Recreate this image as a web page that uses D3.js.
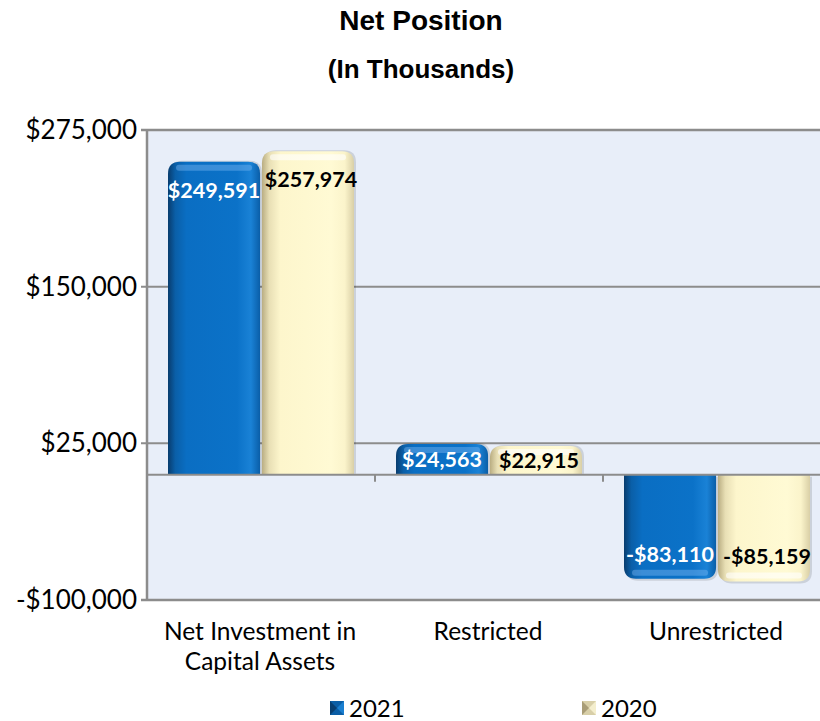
<!DOCTYPE html>
<html>
<head>
<meta charset="utf-8">
<script src="https://cdn.jsdelivr.net/npm/d3@7"></script>
<style>
  body { margin: 0; background: #fff; }
  svg text { font-family: Lato, "Open Sans", sans-serif; }
</style>
</head>
<body>
<script>
// chart data
const categories = ["Net Investment in|Capital Assets", "Restricted", "Unrestricted"];
const seriesNames = ["2021", "2020"];
const values2021 = [249591, 24563, -83110];
const values2020 = [257974, 22915, -85159];
const yTicks = [-100000, 25000, 150000, 275000];

window.onload = main;

function main() {
    const W = 820, H = 721;
    const svg = d3.select("body").append("svg")
        .attr("width", W)
        .attr("height", H);

    const plot = { left: 147, right: 831, top: 130, bottom: 600 };

    const defs = svg.append("defs");
    // blue bar gradient (darker left edge)
    const gBlue = defs.append("linearGradient").attr("id", "gBlue")
        .attr("x1", 0).attr("x2", 1).attr("y1", 0).attr("y2", 0);
    [[0, "#083c6e"], [0.08, "#0a5fa8"], [0.2, "#0a6ec3"], [0.75, "#0b72c8"], [0.9, "#1a82d6"], [1, "#0a5ea8"]]
        .forEach(s => gBlue.append("stop").attr("offset", s[0]).attr("stop-color", s[1]));
    const gCream = defs.append("linearGradient").attr("id", "gCream")
        .attr("x1", 0).attr("x2", 1).attr("y1", 0).attr("y2", 0);
    [[0, "#b9ad82"], [0.08, "#e8dfb5"], [0.2, "#fdf6cc"], [0.75, "#fffad4"], [0.9, "#fbf4cb"], [1, "#d9cfa6"]]
        .forEach(s => gCream.append("stop").attr("offset", s[0]).attr("stop-color", s[1]));
    const fills = { "2021": "url(#gBlue)", "2020": "url(#gCream)" };
    const labelColor = { "2021": "#ffffff", "2020": "#000000" };

    // title
    svg.append("text").attr("x", 421).attr("y", 30)
        .attr("text-anchor", "middle")
        .style("font-family", "'Liberation Sans', Arial, sans-serif")
        .style("font-weight", "bold").style("font-size", "28px")
        .text("Net Position");
    svg.append("text").attr("x", 421).attr("y", 78)
        .attr("text-anchor", "middle")
        .style("font-family", "'Liberation Sans', Arial, sans-serif")
        .style("font-weight", "bold").style("font-size", "26px")
        .text("(In Thousands)");

    // scales
    const y = d3.scaleLinear()
        .domain([-100000, 275000])
        .range([plot.bottom, plot.top]);

    const x0 = d3.scaleBand()
        .domain(categories)
        .range([plot.left, plot.right]);

    const x1 = d3.scaleBand()
        .domain(seriesNames)
        .range([21, x0.bandwidth() - 21])
        .paddingInner(0.02);

    // background
    svg.append("rect")
        .attr("x", plot.left).attr("y", plot.top)
        .attr("width", plot.right - plot.left)
        .attr("height", plot.bottom - plot.top)
        .attr("fill", "#e8eef9");

    // gridlines
    svg.append("g").selectAll("line")
        .data(yTicks)
        .join("line")
        .attr("x1", plot.left - 6).attr("x2", plot.right)
        .attr("y1", d => y(d)).attr("y2", d => y(d))
        .attr("stroke", "#8c8c8c")
        .attr("stroke-width", d => (d === 275000 || d === -100000) ? 2.5 : 2);

    // y axis labels
    const fmt = d => (d < 0 ? "-$" : "$") + d3.format(",")(Math.abs(d));
    svg.append("g").selectAll("text")
        .data(yTicks)
        .join("text")
        .attr("x", plot.left - 10)
        .attr("y", d => y(d) + 9)
        .attr("text-anchor", "end")
        .style("font-size", "26px")
        .attr("fill", "#000")
        .text(fmt);

    // bars
    const data = categories.map((c, i) => ({
        cat: c,
        vals: [{ s: "2021", v: values2021[i] }, { s: "2020", v: values2020[i] }]
    }));

    const r = 12;
    function barPath(x, w, v) {
        const y0 = y(0), y1 = y(v);
        const h = Math.abs(y1 - y0);
        const rr = Math.min(r, h / 2, w / 2);
        if (v >= 0) {
            return `M${x},${y0} L${x},${y1 + rr} Q${x},${y1} ${x + rr},${y1} L${x + w - rr},${y1} Q${x + w},${y1} ${x + w},${y1 + rr} L${x + w},${y0} Z`;
        }
        return `M${x},${y0} L${x},${y1 - rr} Q${x},${y1} ${x + rr},${y1} L${x + w - rr},${y1} Q${x + w},${y1} ${x + w},${y1 - rr} L${x + w},${y0} Z`;
    }

    const groups = svg.append("g").selectAll("g")
        .data(data)
        .join("g")
        .attr("transform", d => `translate(${x0(d.cat)},0)`);

    groups.selectAll("path.shadow")
        .data(d => d.vals)
        .join("path")
        .attr("class", "shadow")
        .attr("d", d => barPath(x1(d.s) + 2, x1.bandwidth(), d.v))
        .attr("transform", d => `translate(0,${d.v >= 0 ? -1 : 2})`)
        .attr("fill", "rgba(0,0,0,0.12)");

    groups.selectAll("path.bar")
        .data(d => d.vals)
        .join("path")
        .attr("class", "bar")
        .attr("d", d => barPath(x1(d.s), x1.bandwidth(), d.v))
        .attr("fill", d => fills[d.s]);

    // top highlight on bars
    groups.selectAll("rect.hl")
        .data(d => d.vals)
        .join("rect")
        .attr("class", "hl")
        .attr("x", d => x1(d.s) + 8)
        .attr("width", x1.bandwidth() - 16)
        .attr("y", d => d.v >= 0 ? y(d.v) + 3 : y(d.v) - 9)
        .attr("height", 6)
        .attr("rx", 3)
        .attr("fill", d => d.s === "2021" ? "rgba(120,180,240,0.45)" : "rgba(255,255,255,0.6)");

    // data labels
    groups.selectAll("text.lbl")
        .data(d => d.vals)
        .join("text")
        .attr("class", "lbl")
        .attr("x", d => x1(d.s) + x1.bandwidth() / 2 + (d.s === "2020" ? 3 : 0))
        .attr("y", d => {
            const y0 = y(0), y1 = y(d.v);
            const h = Math.abs(y1 - y0);
            if (h < 60) return (y0 + y1) / 2 + 8;
            return d.v >= 0 ? y1 + 36 : y1 - 17;
        })
        .attr("text-anchor", "middle")
        .style("font-size", "21.5px")
        .style("font-weight", "bold")
        .attr("fill", d => labelColor[d.s])
        .text(d => fmt(d.v));

    // zero line and axis
    svg.append("line")
        .attr("x1", plot.left).attr("x2", plot.right)
        .attr("y1", y(0)).attr("y2", y(0))
        .attr("stroke", "#8c8c8c").attr("stroke-width", 2);
    svg.append("g").selectAll("line")
        .data(categories.slice(1))
        .join("line")
        .attr("x1", d => x0(d)).attr("x2", d => x0(d))
        .attr("y1", y(0)).attr("y2", y(0) + 7)
        .attr("stroke", "#8c8c8c").attr("stroke-width", 2);
    svg.append("line")
        .attr("x1", plot.left).attr("x2", plot.left)
        .attr("y1", plot.top).attr("y2", plot.bottom)
        .attr("stroke", "#8c8c8c").attr("stroke-width", 2.5);

    // category labels
    const catLabels = svg.append("g").selectAll("text")
        .data(categories)
        .join("text")
        .attr("x", d => x0(d) + x0.bandwidth() / 2 - 1)
        .attr("y", 640)
        .attr("text-anchor", "middle")
        .style("font-size", "24.5px")
        .attr("fill", "#000");
    catLabels.each(function (d) {
        const lines = d.split("|");
        const t = d3.select(this);
        const cx = t.attr("x");
        lines.forEach((l, i) => {
            t.append("tspan").attr("x", cx).attr("dy", i === 0 ? 0 : 30).text(l);
        });
    });

    // legend
    const legendX = [330, 582];
    const legendFill = { "2021": ["#0b5ea6", "#083e70", "#1a7fd0"], "2020": ["#d8cfa8", "#a99d77", "#f4eecd"] };
    seriesNames.forEach((s, i) => {
        const g = svg.append("g").attr("transform", `translate(${legendX[i]},701)`);
        const c = legendFill[s];
        g.append("rect").attr("width", 14).attr("height", 14).attr("fill", c[0]);
        g.append("path").attr("d", "M0,0 L7,7 L0,14 Z").attr("fill", c[1]);
        g.append("path").attr("d", "M14,0 L7,7 L14,14 Z").attr("fill", c[2]);
        g.append("text").attr("x", 19).attr("y", 16)
            .style("font-size", "24px")
            .attr("fill", "#000")
            .text(s);
    });
}
</script>
</body>
</html>
